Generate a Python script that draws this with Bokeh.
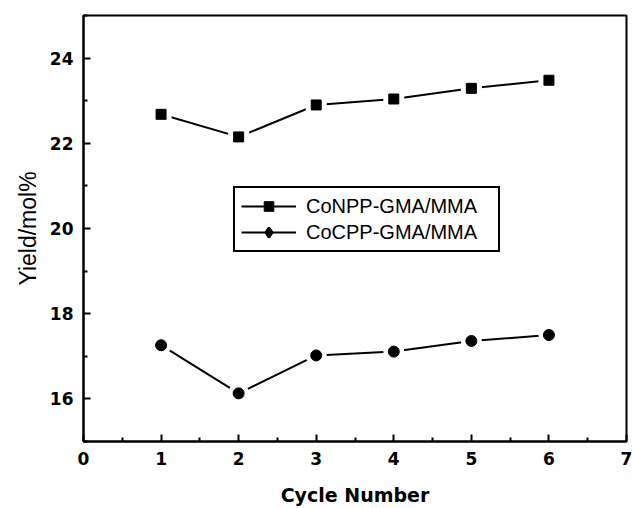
from bokeh.plotting import figure
from bokeh.models import FixedTicker, Legend, LegendItem, ColumnDataSource, Range1d
from bokeh.embed import file_html
from bokeh.resources import INLINE

cycles = [1, 2, 3, 4, 5, 6]
conpp = [22.68, 22.15, 22.90, 23.04, 23.29, 23.48]
cocpp = [17.26, 16.13, 17.02, 17.11, 17.36, 17.50]
x_ticks = [0, 1, 2, 3, 4, 5, 6, 7]
y_ticks = [16, 18, 20, 22, 24]
labels = ["CoNPP-GMA/MMA", "CoCPP-GMA/MMA"]

p = figure(width=632, height=508, output_backend="svg", toolbar_location=None,
           x_range=Range1d(0, 7), y_range=Range1d(15, 25),
           min_border_left=83, min_border_right=6, min_border_top=15, min_border_bottom=67)
p.grid.visible = False
p.outline_line_color = "black"
p.outline_line_width = 2

p.xaxis.ticker = FixedTicker(ticks=x_ticks, minor_ticks=[i + 0.5 for i in range(7)])
p.yaxis.ticker = FixedTicker(ticks=y_ticks, minor_ticks=[15, 17, 19, 21, 23, 25])
for ax in (p.xaxis, p.yaxis):
    ax.axis_line_color = "black"
    ax.axis_line_width = 2
    ax.major_tick_in = 7
    ax.major_tick_out = 0
    ax.minor_tick_in = 4
    ax.minor_tick_out = 0
    ax.major_tick_line_width = 2
    ax.minor_tick_line_width = 2
    ax.major_tick_line_color = "black"
    ax.minor_tick_line_color = "black"
    ax.major_label_text_font = "DejaVu Sans"
    ax.major_label_text_font_style = "bold"
    ax.major_label_text_font_size = "17px"
    ax.major_label_text_color = "black"
    ax.major_label_standoff = 10
    ax.axis_label_text_color = "black"

p.xaxis.axis_label = "Cycle Number"
p.xaxis.axis_label_text_font = "DejaVu Sans"
p.xaxis.axis_label_text_font_style = "bold"
p.xaxis.axis_label_text_font_size = "19px"
p.xaxis.axis_label_standoff = 16
p.yaxis.axis_label = "Yield/mol%"
p.yaxis.axis_label_text_font = "Liberation Sans"
p.yaxis.axis_label_text_font_style = "normal"
p.yaxis.axis_label_text_font_size = "23px"
p.yaxis.axis_label_standoff = 6

s1 = ColumnDataSource(dict(x=cycles, y=conpp))
s2 = ColumnDataSource(dict(x=cycles, y=cocpp))

l1 = p.line("x", "y", source=s1, line_color="black", line_width=2)
l2 = p.line("x", "y", source=s2, line_color="black", line_width=2)
# diamond used for the legend symbol; hidden under the white halos in the plot
m2 = p.scatter("x", "y", source=s2, marker="diamond", size=12, fill_color="black",
               line_color="black", line_width=2.5)
p.scatter("x", "y", source=s1, marker="square", size=21, fill_color="white", line_color=None)
p.scatter("x", "y", source=s2, marker="circle", size=21, fill_color="white", line_color=None)
m1 = p.scatter("x", "y", source=s1, marker="square", size=10, fill_color="black", line_color="black")
p.scatter("x", "y", source=s2, marker="circle", size=11, fill_color="black", line_color="black")

legend = Legend(items=[LegendItem(label=labels[0], renderers=[l1, m1]),
                       LegendItem(label=labels[1], renderers=[l2, m2])],
                location=(150, 189), orientation="vertical")
legend.border_line_color = "black"
legend.border_line_alpha = 1
legend.border_line_width = 2
legend.background_fill_alpha = 1
legend.label_text_font = "Liberation Sans"
legend.label_text_font_size = "20px"
legend.label_text_color = "black"
legend.glyph_width = 55
legend.glyph_height = 24
legend.label_height = 24
legend.label_width = 186
legend.spacing = 2
legend.padding = 6
legend.margin = 0
legend.label_standoff = 10
p.add_layout(legend, "center")

open("out.html", "w").write(file_html(p, INLINE))
